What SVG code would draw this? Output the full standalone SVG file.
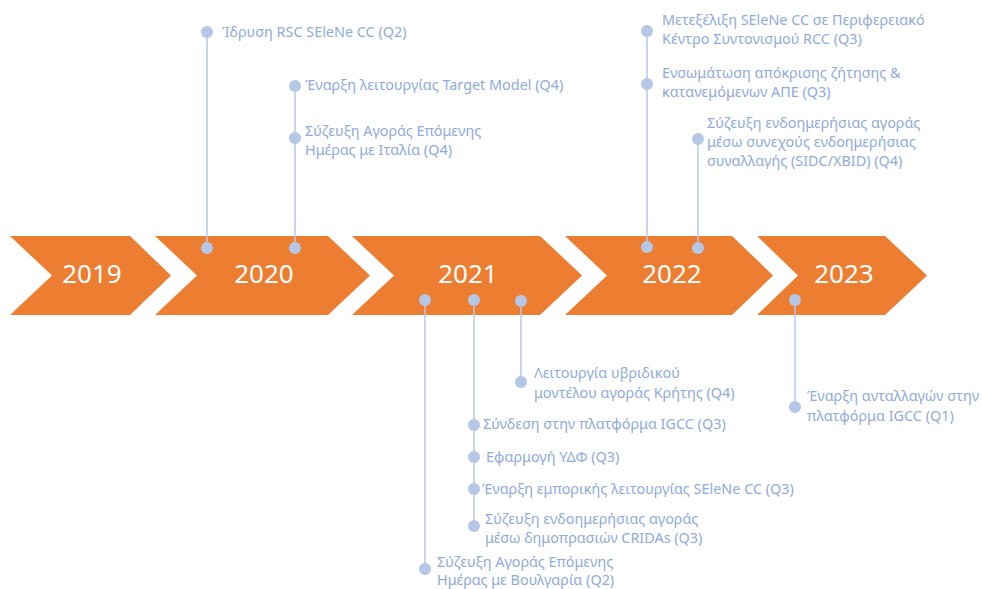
<svg xmlns="http://www.w3.org/2000/svg" width="982" height="589" viewBox="0 0 982 589">
<style>
.chev{fill:#ED7D31}
.yr{font-family:"Noto Sans","DejaVu Sans",sans-serif;font-size:26px;fill:#FFFFFF;text-anchor:middle}
.lbl{font-family:"Noto Sans","DejaVu Sans",sans-serif;font-size:14.4px;fill:#8FAADC}
.dot{fill:#B4C7E7}
.conn line{stroke:#B4C7E7;stroke-width:1.5}
</style>
<rect width="982" height="589" fill="#FFFFFF"/>
<g id="chevrons">
<g id="y2019"><polygon class="chev" points="10,236 130,236 171,275.5 130,315 10,315 52,275.5"/><text class="yr" x="92" y="283">2019</text></g>
<g id="y2020"><polygon class="chev" points="155,236 328,236 370,275.5 328,315 155,315 197,275.5"/><text class="yr" x="264" y="283">2020</text></g>
<g id="y2021"><polygon class="chev" points="352,236 540,236 582,275.5 540,315 352,315 394,275.5"/><text class="yr" x="468" y="283">2021</text></g>
<g id="y2022"><polygon class="chev" points="565,236 732,236 773,275.5 732,315 565,315 607,275.5"/><text class="yr" x="672" y="283">2022</text></g>
<g id="y2023"><polygon class="chev" points="757,236 885,236 927,275.5 885,315 757,315 798,275.5"/><text class="yr" x="844" y="283">2023</text></g>
</g>
<g id="connectors" class="conn">
<line x1="207" y1="248" x2="207" y2="32"/>
<line x1="295" y1="248" x2="295" y2="86"/>
<line x1="647" y1="247" x2="647" y2="31"/>
<line x1="698" y1="248" x2="698" y2="139"/>
<line x1="425" y1="300" x2="425" y2="569"/>
<line x1="474" y1="300" x2="474" y2="526"/>
<line x1="521" y1="301" x2="521" y2="382"/>
<line x1="795" y1="300" x2="795" y2="407"/>
</g>
<g id="anchors">
<circle class="dot" cx="207" cy="248" r="6"/>
<circle class="dot" cx="295" cy="248" r="6"/>
<circle class="dot" cx="647" cy="247" r="6"/>
<circle class="dot" cx="698" cy="248" r="6"/>
<circle class="dot" cx="425" cy="300" r="6"/>
<circle class="dot" cx="474" cy="300" r="6"/>
<circle class="dot" cx="521" cy="301" r="6"/>
<circle class="dot" cx="795" cy="300" r="6"/>
</g>
<g id="e2020a"><circle class="dot" cx="207" cy="32" r="6"/><text class="lbl" x="222" y="37">Ίδρυση RSC SEleNe CC (Q2)</text></g>
<g id="e2020b"><circle class="dot" cx="295" cy="86" r="6"/><text class="lbl" x="305" y="90">Έναρξη λειτουργίας Target Model (Q4)</text></g>
<g id="e2020c"><circle class="dot" cx="295" cy="138" r="6"/><text class="lbl" x="305" y="136">Σύζευξη Αγοράς Επόμενης<tspan x="305" y="155">Ημέρας με Ιταλία (Q4)</tspan></text></g>
<g id="e2022a"><circle class="dot" cx="647" cy="31" r="6"/><text class="lbl" x="662" y="25">Μετεξέλιξη SEleNe CC σε Περιφερειακό<tspan x="662" y="44">Κέντρο Συντονισμού RCC (Q3)</tspan></text></g>
<g id="e2022b"><circle class="dot" cx="647" cy="84" r="6"/><text class="lbl" x="662" y="78">Ενσωμάτωση απόκρισης ζήτησης &amp;<tspan x="662" y="97">κατανεμόμενων ΑΠΕ (Q3)</tspan></text></g>
<g id="e2022c"><circle class="dot" cx="698" cy="139" r="6"/><text class="lbl" x="707" y="128">Σύζευξη ενδοημερήσιας αγοράς<tspan x="707" y="147">μέσω συνεχούς ενδοημερήσιας</tspan><tspan x="707" y="166">συναλλαγής (SIDC/XBID) (Q4)</tspan></text></g>
<g id="e2021a"><circle class="dot" cx="521" cy="382" r="6"/><text class="lbl" x="534" y="378">Λειτουργία υβριδικού<tspan x="534" y="398">μοντέλου αγοράς Κρήτης (Q4)</tspan></text></g>
<g id="e2021b"><circle class="dot" cx="474" cy="425" r="6"/><text class="lbl" x="483" y="429">Σύνδεση στην πλατφόρμα IGCC (Q3)</text></g>
<g id="e2021c"><circle class="dot" cx="474" cy="457" r="6"/><text class="lbl" x="486" y="462">Εφαρμογή ΥΔΦ (Q3)</text></g>
<g id="e2021d"><circle class="dot" cx="474" cy="489" r="6"/><text class="lbl" x="482" y="494">Έναρξη εμπορικής λειτουργίας SEleNe CC (Q3)</text></g>
<g id="e2021e"><circle class="dot" cx="474" cy="526" r="6"/><text class="lbl" x="485" y="524">Σύζευξη ενδοημερήσιας αγοράς<tspan x="485" y="543">μέσω δημοπρασιών CRIDAs (Q3)</tspan></text></g>
<g id="e2021f"><circle class="dot" cx="425" cy="569" r="6"/><text class="lbl" x="437" y="567">Σύζευξη Αγοράς Επόμενης<tspan x="437" y="585">Ημέρας με Βουλγαρία (Q2)</tspan></text></g>
<g id="e2023a"><circle class="dot" cx="795" cy="407" r="6"/><text class="lbl" x="807" y="401">Έναρξη ανταλλαγών στην<tspan x="807" y="421">πλατφόρμα IGCC (Q1)</tspan></text></g>
</svg>
